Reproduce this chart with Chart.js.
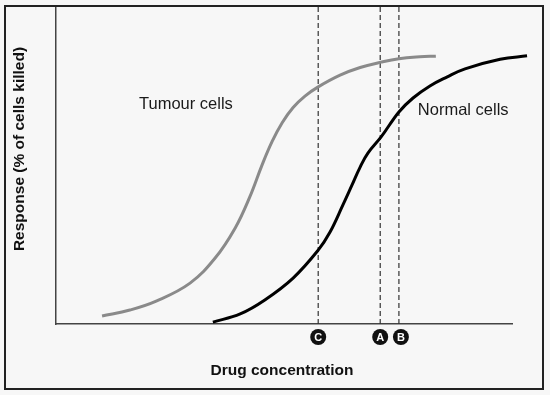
<!DOCTYPE html>
<html>
<head>
<meta charset="utf-8">
<script src="https://cdn.jsdelivr.net/npm/chart.js@4.4.1/dist/chart.umd.min.js"></script>
<style>
  html, body { margin: 0; padding: 0; background: #f7f7f7; }
  #wrap { width: 550px; height: 395px; position: relative; }
</style>
</head>
<body>
<div id="wrap"><canvas id="c" width="550" height="395"></canvas></div>
<script>
// ---- Data ----
const tumourX = [10.1, 16.2, 22.1, 29.4, 34.9, 39.3, 42.5, 45.2, 47.4, 49.6, 52.0, 54.6, 57.5, 62.3, 66.7, 71.3, 75.2, 79.8, 83.3];
const tumourY = [2.5, 4.4, 7.3, 12.9, 20.8, 30.3, 40.1, 50.2, 57.6, 63.5, 68.3, 71.9, 74.8, 78.5, 80.9, 82.6, 83.7, 84.3, 84.5];
const normalX = [34.4, 40.4, 45.8, 52.0, 57.5, 60.1, 62.9, 64.9, 66.7, 68.4, 71.3, 75.2, 78.3, 82.0, 85.7, 89.7, 97.4, 103.3];
const normalY = [0.6, 3.2, 7.6, 14.5, 23.3, 29.0, 37.5, 43.8, 49.5, 53.9, 59.0, 66.9, 71.3, 75.1, 77.9, 80.5, 83.5, 84.6];
const markerLabels = ['C', 'A', 'B'];
const markerX = [57.5, 71.1, 75.2];
const seriesNames = ['Tumour cells', 'Normal cells'];
const seriesLabelPos = [[28.5, 69.4], [89.3, 67.5]];
const xTitle = 'Drug concentration';
const yTitle = 'Response (% of cells killed)';

const toPts = (xs, ys) => xs.map((x, i) => ({ x: x, y: ys[i] }));

const datasets = [
  {
    label: seriesNames[0], data: toPts(tumourX, tumourY),
    borderColor: '#8a8a8a', borderWidth: 3, pointRadius: 0,
    tension: 0.4, clip: false, order: 0
  },
  {
    label: seriesNames[1], data: toPts(normalX, normalY),
    borderColor: '#000000', borderWidth: 3, pointRadius: 0,
    tension: 0.4, clip: false, order: 0
  }
];
markerX.forEach((mx, i) => {
  datasets.push({
    label: markerLabels[i], data: [{ x: mx, y: 0 }, { x: mx, y: 100 }],
    borderColor: '#333', borderWidth: 1.2, borderDash: [5, 3],
    pointRadius: 0, clip: false, order: 1
  });
});

const decor = {
  id: 'decor',
  beforeDraw(chart) {
    const ctx = chart.ctx;
    ctx.save();
    ctx.fillStyle = '#f7f7f7';
    ctx.fillRect(0, 0, chart.width, chart.height);
    ctx.restore();
  },
  afterDraw(chart) {
    const ctx = chart.ctx;
    const xs = chart.scales.x, ys = chart.scales.y;
    ctx.save();
    // frame
    ctx.strokeStyle = '#222';
    ctx.lineWidth = 2;
    ctx.strokeRect(5, 6, 538, 383);
    // markers
    markerX.forEach((mx, i) => {
      const px = xs.getPixelForValue(mx) + (i === 2 ? 2 : 0);
      const py = ys.bottom + 13;
      ctx.beginPath();
      ctx.arc(px, py, 8, 0, Math.PI * 2);
      ctx.fillStyle = '#111';
      ctx.fill();
      ctx.fillStyle = '#fff';
      ctx.font = 'bold 11px "Liberation Sans", Arial, sans-serif';
      ctx.textAlign = 'center';
      ctx.textBaseline = 'middle';
      ctx.fillText(markerLabels[i], px, py + 0.5);
    });
    // series labels
    ctx.fillStyle = '#1a1a1a';
    ctx.font = '16.5px "Liberation Sans", Arial, sans-serif';
    ctx.textAlign = 'center';
    ctx.textBaseline = 'middle';
    seriesNames.forEach((n, i) => {
      ctx.fillText(n, xs.getPixelForValue(seriesLabelPos[i][0]), ys.getPixelForValue(seriesLabelPos[i][1]));
    });
    // axis titles
    ctx.fillStyle = '#111';
    ctx.font = 'bold 15.5px "Liberation Sans", Arial, sans-serif';
    ctx.fillText(xTitle, 282, 371);
    ctx.translate(20, 149);
    ctx.rotate(-Math.PI / 2);
    ctx.fillText(yTitle, 0, 0);
    ctx.restore();
  }
};

new Chart(document.getElementById('c'), {
  type: 'line',
  data: { datasets: datasets },
  options: {
    responsive: false,
    animation: false,
    events: [],
    layout: { padding: { left: 56, right: 38, top: 7, bottom: 71 } },
    plugins: { legend: { display: false }, tooltip: { enabled: false } },
    scales: {
      x: {
        type: 'linear', min: 0, max: 100,
        grid: { display: false, drawTicks: false },
        ticks: { display: false },
        border: { display: true, color: '#444', width: 1.5 }
      },
      y: {
        type: 'linear', min: 0, max: 100,
        grid: { display: false, drawTicks: false },
        ticks: { display: false },
        border: { display: true, color: '#444', width: 1.5 }
      }
    }
  },
  plugins: [decor]
});
</script>
</body>
</html>
